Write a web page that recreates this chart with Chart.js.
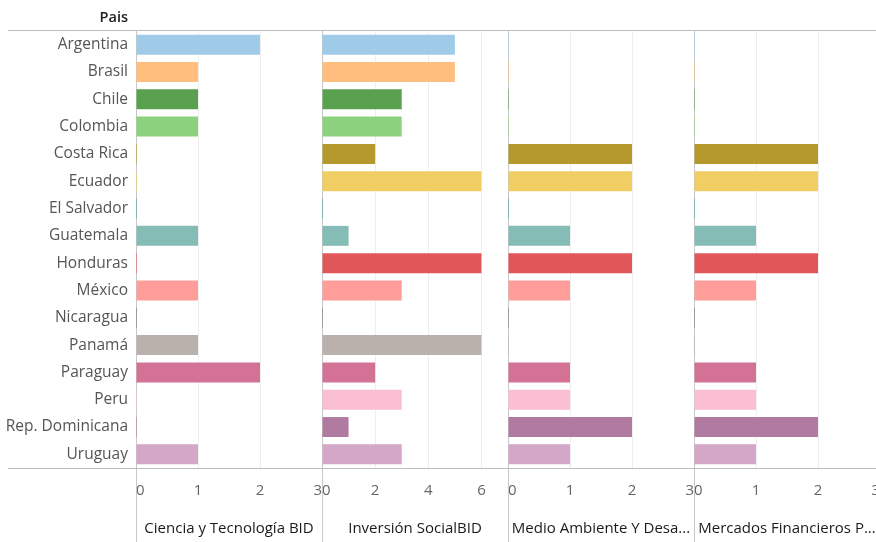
<!DOCTYPE html>
<html><head><meta charset="utf-8">
<script src="https://cdn.jsdelivr.net/npm/chart.js@4.4.1/dist/chart.umd.min.js"></script>
<style>
html,body{margin:0;padding:0;background:#fff;overflow:hidden;width:876px;height:542px}
#wrap{position:absolute;left:0;top:0;width:894px;height:542px}
</style>
</head><body><div id="wrap"><canvas id="c" width="894" height="542"></canvas></div>
<script>
const countries = ["Argentina","Brasil","Chile","Colombia","Costa Rica","Ecuador","El Salvador","Guatemala","Honduras","México","Nicaragua","Panamá","Paraguay","Peru","Rep. Dominicana","Uruguay"];
const cienciaTecnologia   = [2,1,1,1,0,0,0,1,0,1,0,1,2,0,0,1];
const inversionSocial     = [5,5,3,3,2,6,0,1,6,3,0,6,2,3,1,3];
const medioAmbiente       = [0,0,0,0,2,2,0,1,2,1,0,0,1,1,2,1];
const mercadosFinancieros = [0,0,0,0,2,2,0,1,2,1,0,0,1,1,2,1];
const panelTitles = ["Ciencia y Tecnología BID","Inversión SocialBID","Medio Ambiente Y Desa...","Mercados Financieros P..."];
const panelTicks = [[0,1,2,3],[0,2,4,6,7],[0,1,2,3],[0,1,2,3]];
const panelTickLabels = [["0","1","2","3"],["0","2","4","6",""],["0","1","2","3"],["0","1","2","3"]];
const rowHeader = "Pais";
const countryColors = ["#A0CBE8","#FFBE7D","#59A14F","#8CD17D","#B6992D","#F1CE63","#499894","#86BCB6","#E15759","#FF9D9A","#79706E","#BAB0AC","#D37295","#FABFD2","#B07AA1","#D4A6C8"];

const panelData = [cienciaTecnologia, inversionSocial, medioAmbiente, mercadosFinancieros];
const FONT = "'Open Sans', sans-serif";

const datasets = panelData.map((d, i) => ({
  label: panelTitles[i],
  data: d,
  xAxisID: 'x' + i,
  yAxisID: 'y',
  backgroundColor: countryColors,
  borderColor: countryColors,
  borderWidth: 0,
  grouped: false,
  minBarLength: 1,
  categoryPercentage: 1,
  barPercentage: 0.73
}));

const scales = {
  y: {
    type: 'category',
    position: 'left',
    grid: {display: false, drawTicks: false},
    border: {display: false},
    ticks: {padding: 8, color: '#555', font: {family: FONT, size: 15.5}},
    afterFit(s) { s.width = 136; }
  }
};
panelTitles.forEach((t, i) => {
  const ticks = panelTicks[i];
  const max = ticks[ticks.length - 1];
  scales['x' + i] = {
    type: 'linear',
    position: 'bottom',
    stack: 'panels',
    stackWeight: 1,
    min: 0,
    max: max,
    afterBuildTicks(s) { s.ticks = ticks.map(v => ({value: v})); },
    ticks: {
      autoSkip: false, maxRotation: 0, align: 'inner', padding: 14,
      color: '#666', font: {family: FONT, size: 15}
      , callback(v, idx) { return panelTickLabels[i][idx]; }
    },
    grid: {
      drawTicks: false,
      color(ctx) {
        const v = ctx.tick ? ctx.tick.value : null;
        return (v === 0 || v === max) ? 'rgba(0,0,0,0)' : '#eeeeee';
      },
      lineWidth: 1
    },
    border: {display: false},
    title: {display: true, text: t, color: '#1a1a1a', font: {family: FONT, size: 15}, padding: {top: 0, bottom: 4}},
    afterFit(s) { s.height = 74; }
  };
});

const framePlugin = {
  id: 'frame',
  beforeDatasetsDraw(chart) {
    const ctx = chart.ctx, a = chart.chartArea;
    ctx.save();
    ctx.strokeStyle = '#c8c8c8';
    ctx.lineWidth = 1;
    ctx.beginPath();
    for (let i = 0; i < panelTitles.length; i++) {
      const x = Math.round(chart.scales['x' + i].getPixelForValue(0)) + 0.5;
      ctx.moveTo(x, a.top - 1);
      ctx.lineTo(x, chart.height);
    }
    ctx.stroke();
    ctx.restore();
  },
  afterDraw(chart) {
    const ctx = chart.ctx, a = chart.chartArea;
    ctx.save();
    ctx.strokeStyle = '#bdbdbd';
    ctx.lineWidth = 1;
    ctx.beginPath();
    ctx.moveTo(8, Math.round(a.top) - 0.5); ctx.lineTo(chart.width, Math.round(a.top) - 0.5);
    ctx.moveTo(8, Math.round(a.bottom) + 0.5); ctx.lineTo(chart.width, Math.round(a.bottom) + 0.5);
    ctx.stroke();
    ctx.fillStyle = '#222';
    ctx.font = "600 14.5px " + FONT;
    ctx.textAlign = 'right';
    ctx.textBaseline = 'middle';
    ctx.fillText(rowHeader, 128, 18);
    ctx.restore();
  }
};

new Chart(document.getElementById('c'), {
  type: 'bar',
  data: {labels: countries, datasets},
  options: {
    indexAxis: 'y',
    responsive: false,
    animation: false,
    devicePixelRatio: 1,
    layout: {padding: {left: 0, right: 2, top: 31, bottom: 0}},
    plugins: {legend: {display: false}, tooltip: {enabled: false}},
    scales
  },
  plugins: [framePlugin]
});
</script>
</body></html>
